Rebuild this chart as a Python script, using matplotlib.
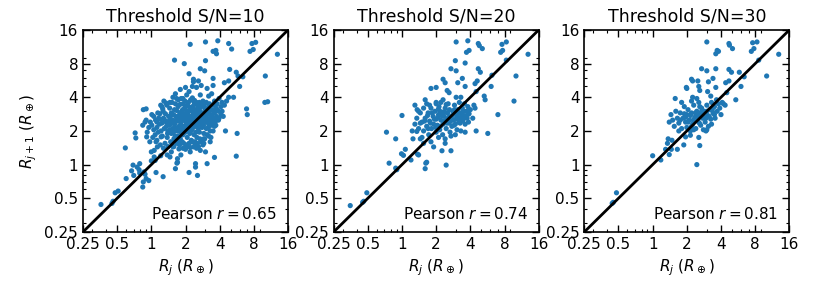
import numpy as np
import matplotlib.pyplot as plt
from matplotlib.ticker import FixedLocator, FixedFormatter, LogLocator, NullFormatter

# (R_j, R_j+1) pairs, in Earth radii
pairs_sn10 = [
    # sparse points
    (2.2, 11.9), (3.0, 12.5), (3.85, 12.8), (4.8, 12.1), (5.1, 10.8), (7.7, 12.1), (8.3, 12.4),
    (7.4, 10.3), (7.9, 10.7), (3.5, 10.3), (3.7, 10.5), (3.75, 9.8), (12.9, 9.7), (1.6, 8.6),
    (1.95, 8.0), (3.0, 8.5), (2.7, 7.2), (2.95, 6.9), (2.15, 6.5), (2.35, 5.8), (2.35, 5.5),
    (2.6, 5.6), (3.5, 5.9), (4.9, 7.1), (5.6, 6.7), (5.8, 6.2), (4.4, 5.4), (4.8, 5.6), (6.4, 6.1),
    (6.0, 5.0), (10.1, 6.2), (10.0, 3.6), (10.6, 3.65), (6.9, 3.15), (7.0, 2.8), (5.7, 1.9),
    (5.6, 1.19), (4.5, 2.0), (3.6, 1.16), (3.1, 1.02), (3.0, 1.3), (2.55, 0.8), (2.15, 0.85),
    (1.63, 0.92), (1.27, 0.78), (1.1, 0.85), (2.45, 1.02), (2.45, 0.95), (1.7, 1.05), (1.68, 1.03),
    (0.36, 0.44), (0.45, 0.45), (0.46, 0.47), (0.48, 0.56), (0.51, 0.58), (0.6, 0.75), (0.67, 0.88),
    (0.69, 0.99), (0.7, 0.8), (0.75, 0.95), (0.79, 1.02), (0.78, 0.9), (0.84, 0.63), (0.85, 0.7),
    (0.9, 0.75), (0.95, 0.72), (0.86, 0.86), (0.88, 0.82), (0.79, 0.84),
    (0.59, 1.41), (0.73, 1.73), (0.72, 1.92), (0.84, 2.25), (0.88, 2.4), (0.85, 3.1), (0.9, 3.15),
    (1.01, 2.8), (1.05, 2.7), (0.9, 2.5), (1.01, 2.25), (1.12, 2.4), (1.2, 2.55), (1.21, 3.4),
    (1.26, 3.15), (1.29, 3.7), (1.22, 1.77), (1.12, 1.65), (0.97, 1.6), (0.91, 1.77), (1.0, 1.3),
    (1.06, 1.34), (1.13, 1.44), (1.0, 1.08), (1.06, 1.17), (1.21, 1.2), (1.08, 1.09),
    (1.37, 3.4), (1.46, 3.6), (1.55, 4.0), (1.63, 4.3), (1.8, 4.7), (2.0, 4.9), (2.15, 4.5),
    (2.3, 5.0), (2.5, 4.9), (2.7, 4.2), (2.75, 5.1), (3.1, 4.8), (3.2, 4.1), (1.67, 3.9),
    (1.9, 3.9), (2.05, 4.2), (2.3, 3.95), (2.4, 3.75), (2.5, 3.45), (3.4, 4.3), (3.5, 5.1),
    (3.6, 3.7), (3.95, 3.9), (4.2, 3.6), (4.4, 3.4), (4.6, 3.7), (5.3, 4.0), (4.8, 4.0),
    (3.8, 3.1), (4.1, 2.8), (4.3, 2.7), (3.9, 2.5), (3.7, 2.25), (3.5, 2.0), (3.2, 1.8), (3.3, 1.6),
    (2.9, 1.7), (2.85, 1.5), (2.7, 1.34), (2.5, 1.4), (2.35, 1.44), (2.2, 1.3), (2.0, 1.37),
    (1.82, 1.22), (1.7, 1.13), (1.5, 1.3), (1.46, 1.17), (1.38, 1.22), (1.55, 1.44), (1.73, 1.6),
    # dense core
    (1.3, 2.1), (1.35, 2.4), (1.4, 2.0), (1.42, 2.7), (1.45, 2.25), (1.5, 1.9), (1.5, 2.9),
    (1.55, 2.5), (1.55, 2.1), (1.6, 2.3), (1.6, 3.1), (1.62, 1.8), (1.65, 2.7), (1.7, 2.0),
    (1.7, 2.45), (1.72, 3.3), (1.75, 2.2), (1.78, 2.9), (1.8, 1.7), (1.8, 2.6), (1.82, 2.35),
    (1.85, 3.0), (1.85, 2.05), (1.88, 2.75), (1.9, 1.85), (1.9, 3.5), (1.92, 2.5), (1.95, 2.2),
    (1.97, 3.2), (2.0, 2.65), (2.0, 1.95), (2.02, 2.4), (2.05, 3.0), (2.07, 1.75), (2.1, 2.8),
    (2.1, 2.15), (2.12, 3.6), (2.15, 2.5), (2.18, 1.9), (2.2, 3.1), (2.2, 2.3), (2.25, 2.7),
    (2.25, 1.65), (2.28, 2.05), (2.3, 3.3), (2.32, 2.45), (2.35, 2.9), (2.38, 1.85), (2.4, 2.6),
    (2.4, 3.5), (2.45, 2.2), (2.48, 3.0), (2.5, 2.4), (2.52, 1.75), (2.55, 2.8), (2.58, 3.2),
    (2.6, 2.1), (2.62, 2.6), (2.65, 1.95), (2.7, 3.0), (2.7, 2.35), (2.75, 2.75), (2.8, 3.4),
    (2.8, 2.15), (2.85, 2.55), (2.9, 1.9), (2.92, 2.9), (2.95, 3.2), (3.0, 2.4), (3.0, 2.7),
    (3.05, 2.1), (3.1, 3.0), (3.15, 2.55), (3.2, 3.3), (3.2, 2.3), (3.3, 2.8), (3.3, 2.0),
    (3.4, 3.1), (3.45, 2.6), (3.5, 3.4), (3.55, 2.4), (3.6, 2.9), (3.7, 3.2), (3.75, 2.7),
    (3.8, 3.5), (1.25, 1.8), (1.28, 2.6), (1.32, 1.55), (1.38, 1.75), (1.45, 3.2), (1.48, 1.6),
    (1.52, 3.6), (1.58, 1.7), (1.63, 3.5), (1.68, 1.55), (1.73, 3.8), (1.77, 1.5), (1.83, 3.9),
    (1.87, 1.6), (1.93, 1.55), (1.98, 3.7), (2.03, 1.5), (2.08, 3.4), (2.15, 1.55), (2.22, 3.8),
    (2.3, 1.6), (2.35, 3.7), (2.42, 1.6), (2.5, 3.6), (2.55, 1.55), (2.65, 3.6), (2.68, 1.7),
    (2.75, 1.6), (2.85, 3.7), (2.95, 1.7), (3.05, 3.6), (3.1, 1.85), (3.25, 3.5), (3.35, 1.75),
    (3.4, 2.25), (3.6, 2.2), (3.65, 3.6), (3.9, 3.0), (3.95, 2.6), (4.1, 3.3), (4.2, 3.0),
    (1.15, 1.95), (1.18, 2.3), (1.22, 2.0), (1.12, 2.15), (1.08, 1.85), (1.1, 1.6), (1.2, 1.5),
    (1.28, 1.4), (1.4, 1.45), (1.58, 1.45), (1.75, 1.38), (1.9, 1.4), (2.05, 1.45), (2.2, 1.42),
    (2.45, 1.5), (2.6, 1.45), (2.9, 1.55),
    (1.33, 2.85), (1.47, 2.55), (1.53, 2.35), (1.57, 2.8), (1.62, 2.15), (1.67, 3.05), (1.69, 2.6),
    (1.74, 2.05), (1.76, 2.75), (1.79, 3.45), (1.84, 2.45), (1.86, 2.2), (1.89, 3.1), (1.94, 2.85),
    (1.96, 2.0), (1.99, 3.35), (2.04, 2.55), (2.06, 2.1), (2.09, 2.95), (2.13, 2.35), (2.17, 3.25),
    (2.19, 2.65), (2.23, 2.0), (2.27, 3.0), (2.29, 2.55), (2.33, 2.15), (2.37, 3.15), (2.41, 2.75),
    (2.44, 2.35), (2.47, 1.95), (2.53, 2.65), (2.57, 3.4), (2.61, 2.25), (2.64, 2.9), (2.69, 2.5),
    (2.73, 3.3), (2.78, 2.45), (2.83, 2.85), (2.88, 2.25), (2.93, 3.45), (2.97, 2.6), (3.02, 3.0),
    (3.08, 2.45), (3.13, 2.85), (3.18, 2.15), (3.23, 3.05), (3.28, 2.6), (3.35, 2.45), (3.42, 2.75),
    (3.52, 3.0), (3.58, 2.55), (3.68, 2.45), (3.72, 3.45), (1.16, 2.6), (1.19, 2.85), (1.24, 2.35),
    (1.27, 3.0), (1.31, 2.5), (1.36, 2.2), (1.39, 1.9), (1.43, 2.45), (1.46, 2.05), (1.49, 2.75),
    (1.57, 1.95), (1.64, 2.45), (1.71, 1.8), (1.81, 1.95), (1.91, 2.05), (2.01, 2.2), (2.11, 2.05),
    (2.21, 2.15), (1.05, 2.05), (0.98, 2.4), (0.95, 2.15), (1.03, 1.75), (0.92, 1.95), (1.09, 2.5),
    (1.14, 2.9), (1.24, 3.3), (1.35, 3.55),
]

pairs_sn20 = [
    (3.0, 12.5), (3.8, 12.8), (4.7, 12.1), (4.8, 11.6), (5.1, 10.9), (7.6, 11.9), (8.3, 12.5),
    (7.7, 10.5), (7.4, 10.1), (3.7, 10.1), (3.9, 10.5), (2.95, 8.5), (3.6, 8.1), (12.9, 9.7),
    (8.3, 8.6), (2.7, 7.2), (3.0, 6.9), (4.7, 7.2), (4.9, 6.7), (6.2, 6.3), (10.1, 6.2),
    (2.3, 5.8), (2.4, 5.4), (3.4, 5.9), (3.1, 5.4), (3.6, 5.0), (4.4, 5.3), (4.6, 5.6), (6.1, 5.0),
    (1.8, 4.8), (2.0, 4.9), (2.5, 4.6), (2.6, 4.4), (3.0, 4.0), (3.3, 4.0), (4.5, 4.5), (5.3, 4.1),
    (5.4, 3.8), (9.7, 3.7), (7.0, 2.8), (4.5, 2.0), (5.7, 1.9), (4.2, 2.6), (4.4, 3.2), (4.3, 3.4),
    (1.0, 2.75), (0.73, 1.95), (0.88, 1.7), (0.99, 1.25), (1.03, 1.21), (1.07, 1.37), (0.77, 1.03),
    (0.88, 0.93), (0.9, 0.9), (1.2, 1.1), (1.37, 1.24), (1.4, 1.22), (1.6, 0.92), (1.65, 1.05),
    (1.62, 1.03), (2.45, 0.99), (1.9, 1.44), (2.25, 1.33), (2.7, 1.33), (1.8, 1.6), (2.4, 1.55),
    (1.55, 1.55), (1.45, 1.7), (1.25, 1.7), (1.23, 2.0), (1.35, 1.98), (1.3, 3.4), (1.36, 3.1),
    (1.6, 3.8), (1.75, 3.4), (2.0, 3.5), (2.1, 3.15), (2.2, 3.6),
    (0.35, 0.43), (0.45, 0.46), (0.46, 0.47), (0.49, 0.56),
    (1.3, 2.3), (1.35, 2.6), (1.4, 2.1), (1.45, 2.9), (1.5, 2.4), (1.55, 2.0), (1.55, 3.2),
    (1.6, 2.6), (1.65, 2.2), (1.7, 2.9), (1.72, 1.85), (1.75, 2.45), (1.8, 3.2), (1.82, 2.1),
    (1.88, 2.7), (1.9, 2.3), (1.95, 3.0), (2.0, 1.95), (2.0, 2.55), (2.05, 2.25), (2.1, 2.8),
    (2.12, 3.3), (2.15, 2.05), (2.2, 2.5), (2.25, 2.95), (2.28, 1.85), (2.3, 2.3), (2.35, 2.7),
    (2.4, 3.2), (2.45, 2.1), (2.5, 2.55), (2.52, 2.9), (2.6, 2.35), (2.62, 3.1), (2.65, 1.95),
    (2.7, 2.7), (2.75, 2.2), (2.8, 3.0), (2.85, 2.5), (2.9, 3.4), (2.95, 2.3), (3.0, 2.8),
    (3.05, 2.05), (3.1, 3.1), (3.15, 2.6), (3.2, 3.6), (3.25, 2.35), (3.3, 2.9), (3.4, 3.2),
    (3.45, 2.5), (3.5, 2.75), (3.55, 3.5), (3.6, 2.3), (3.7, 3.0), (3.75, 2.6), (3.8, 3.3),
    (3.9, 2.85), (4.0, 3.1), (2.0, 3.6), (2.3, 3.8), (2.55, 3.5), (1.65, 3.5), (1.4, 3.0),
    (2.7, 1.8), (2.4, 1.7), (2.1, 1.75), (3.3, 2.0), (3.6, 1.95), (1.5, 1.75), (2.95, 1.85),
    (1.58, 2.45), (1.68, 2.75), (1.78, 2.35), (1.84, 2.9), (1.93, 2.55), (1.98, 2.15), (2.08, 2.65),
    (2.18, 2.2), (2.23, 2.75), (2.33, 2.45), (2.38, 2.95), (2.48, 2.35), (2.58, 2.65), (2.68, 2.45),
    (2.78, 2.75), (2.88, 2.25), (2.98, 2.55), (3.08, 2.85), (3.18, 2.4), (3.28, 2.65), (3.38, 2.45),
    (3.48, 3.0), (3.62, 2.65), (3.78, 2.8), (3.85, 2.4), (2.15, 3.0), (2.45, 3.45), (1.7, 2.1),
    (1.45, 2.35), (2.9, 3.1),
]

pairs_sn30 = [
    (3.0, 12.5), (4.7, 12.1), (4.75, 11.7), (5.05, 10.9), (3.7, 10.5), (3.8, 10.3), (3.6, 9.8),
    (7.6, 12.3), (8.3, 12.5), (7.8, 10.9), (7.4, 10.3), (12.9, 9.7), (8.6, 8.6), (2.7, 7.2),
    (3.0, 6.9), (3.6, 7.2), (4.7, 7.1), (4.95, 6.7), (5.8, 6.7), (6.4, 6.1), (10.1, 6.2),
    (2.2, 5.8), (2.25, 5.6), (2.5, 5.6), (3.1, 5.5), (3.4, 5.9), (4.4, 5.4), (4.7, 5.6), (6.0, 5.0),
    (2.0, 4.8), (1.98, 4.9), (2.55, 5.0), (2.6, 4.6), (3.05, 4.5), (3.25, 4.1), (3.6, 4.9),
    (4.5, 4.4), (1.58, 3.9), (2.25, 4.0), (5.4, 3.8), (4.2, 3.5), (4.35, 3.4),
    (1.0, 1.2), (1.18, 1.1), (1.4, 1.23), (1.46, 1.37), (1.3, 1.37), (1.35, 1.55), (1.37, 1.7),
    (1.48, 1.65), (1.88, 1.5), (1.65, 1.37), (2.6, 1.48), (2.45, 1.0), (1.95, 1.77), (2.15, 1.83),
    (2.55, 1.75), (3.0, 2.05), (0.45, 0.46), (0.44, 0.45), (0.48, 0.56),
    (1.45, 2.8), (1.5, 2.5), (1.55, 2.2), (1.6, 3.0), (1.65, 2.6), (1.7, 2.35), (1.75, 2.9),
    (1.8, 2.1), (1.85, 2.6), (1.9, 3.3), (1.95, 2.4), (2.0, 2.15), (2.0, 2.8), (2.05, 3.1),
    (2.1, 2.5), (2.15, 2.0), (2.2, 2.9), (2.25, 2.3), (2.3, 3.4), (2.35, 2.65), (2.4, 2.1),
    (2.45, 3.0), (2.5, 2.45), (2.55, 3.6), (2.6, 2.8), (2.65, 2.25), (2.7, 3.2), (2.75, 2.6),
    (2.8, 2.05), (2.85, 3.0), (2.9, 2.4), (3.0, 3.4), (3.05, 2.75), (3.1, 2.2), (3.2, 3.1),
    (3.25, 2.55), (3.3, 3.6), (3.4, 2.9), (3.5, 3.3), (3.55, 2.6), (3.65, 3.8), (3.7, 3.0),
    (3.8, 3.5), (3.9, 3.2), (4.0, 2.8), (4.1, 3.6), (2.2, 3.7), (1.8, 3.6), (2.45, 3.9),
    (1.7, 2.0), (1.4, 2.4), (2.95, 2.0), (3.3, 2.3),
    (1.75, 2.5), (1.95, 2.65), (2.05, 2.4), (2.15, 2.75), (2.28, 2.5), (2.38, 2.9), (2.48, 2.7),
    (2.58, 2.35), (2.68, 2.95), (2.78, 2.8), (2.95, 2.6), (3.0, 3.0), (3.15, 2.7), (3.35, 3.1),
    (3.5, 2.8), (2.2, 2.2), (2.6, 3.3), (1.9, 2.85), (2.3, 2.05),
]

thresholds = ['10', '20', '30']
pearson_r = ['0.65', '0.74', '0.81']
tick_vals = [0.25, 0.5, 1, 2, 4, 8, 16]
tick_labels = ['0.25', '0.5', '1', '2', '4', '8', '16']

fig = plt.figure(figsize=(8.3, 2.91), dpi=100)
lefts = [0.100, 0.402, 0.704]
all_pairs = [pairs_sn10, pairs_sn20, pairs_sn30]

for i, (left, pairs) in enumerate(zip(lefts, all_pairs)):
    ax = fig.add_axes([left, 0.203, 0.247, 0.694])
    x = np.array([p[0] for p in pairs])
    y = np.array([p[1] for p in pairs])
    ax.scatter(x, y, s=14, color='#1f77b4', edgecolors='none', zorder=2)
    ax.plot([0.25, 16], [0.25, 16], color='black', lw=2, zorder=3)

    ax.set_xscale('log')
    ax.set_yscale('log')
    ax.set_xlim(0.25, 16)
    ax.set_ylim(0.25, 16)
    for axis in (ax.xaxis, ax.yaxis):
        axis.set_major_locator(FixedLocator(tick_vals))
        axis.set_major_formatter(FixedFormatter(tick_labels))
        axis.set_minor_locator(LogLocator(base=10, subs=np.arange(2, 10)))
        axis.set_minor_formatter(NullFormatter())
    ax.tick_params(which='both', direction='in', top=True, right=True, labelsize=11)
    ax.tick_params(which='major', length=5, width=1)
    ax.tick_params(which='minor', length=2.5, width=0.8)
    for sp in ax.spines.values():
        sp.set_linewidth(1.2)

    ax.set_title('Threshold S/N=' + thresholds[i], fontsize=12.5)
    ax.set_xlabel(r'$R_j\ (R_\oplus)$', fontsize=11)
    if i == 0:
        ax.set_ylabel(r'$R_{j+1}\ (R_\oplus)$', fontsize=11)
    ax.text(0.945, 0.065, r'Pearson $r = $' + pearson_r[i], transform=ax.transAxes,
            ha='right', va='baseline', fontsize=11)

plt.savefig('out.png', dpi=100)
